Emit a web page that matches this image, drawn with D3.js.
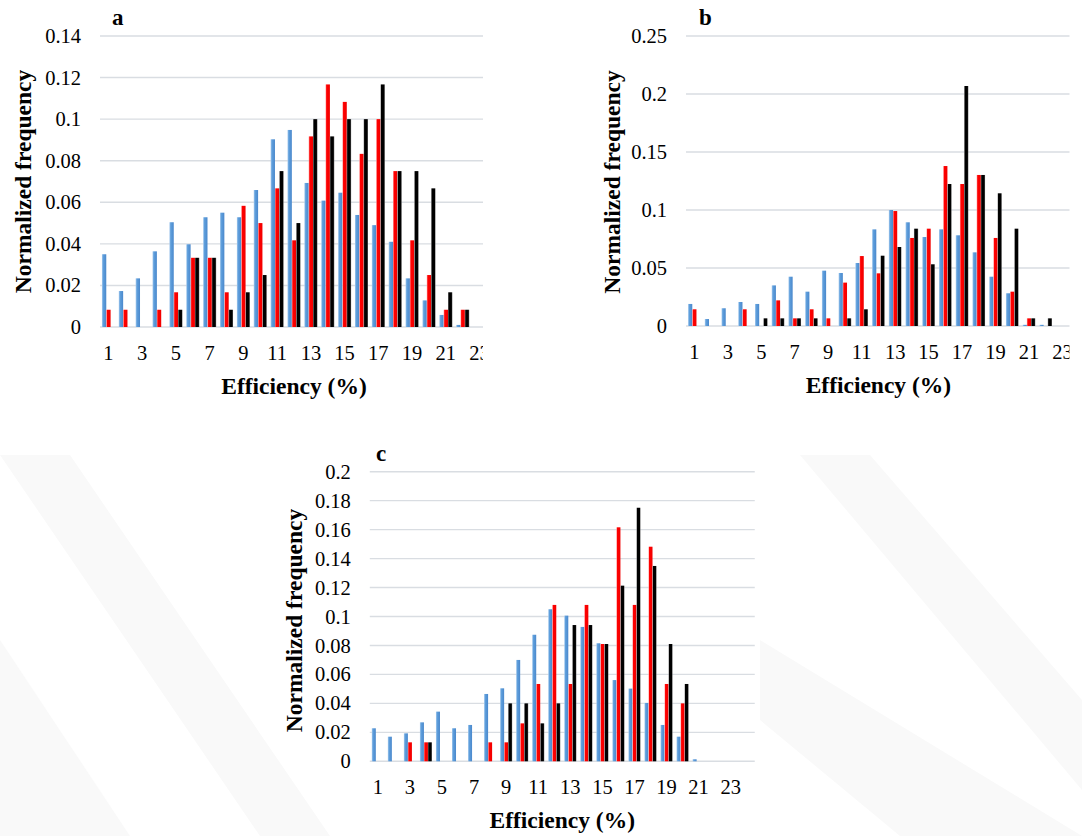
<!DOCTYPE html>
<html>
<head>
<meta charset="utf-8">
<script src="https://cdn.jsdelivr.net/npm/d3@7"></script>
<style>
  html, body { margin: 0; padding: 0; background: #ffffff; }
  svg { display: block; }
  svg text { font-family: "Liberation Serif", "Times New Roman", Times, "DejaVu Serif", serif !important; fill: #000; }
</style>
</head>
<body>
<svg id="chart" width="1082" height="836"></svg>
<script>
// ---------------- DATA ----------------
const seriesNames = ["blue", "red", "black"];

const aCategories = d3.range(1, 24);           // 1..23
const aBlue  = [0.035,0.0173,0.0234,0.0364,0.0504,0.0398,0.0528,0.055,0.0528,0.0659,0.0903,0.0948,0.0693,0.0608,0.0646,0.0539,0.049,0.041,0.0234,0.0128,0.0058,0.001,0];
const aRed   = [0.0083,0.0083,0,0.0083,0.0167,0.0333,0.0333,0.0167,0.0583,0.05,0.0667,0.0417,0.0917,0.1167,0.1083,0.0833,0.1,0.075,0.0417,0.025,0.0083,0.0083,0];
const aBlack = [0,0,0,0,0.0083,0.0333,0.0333,0.0083,0.0167,0.025,0.075,0.05,0.1,0.0917,0.1,0.1,0.1167,0.075,0.075,0.0667,0.0167,0.0083,0];
const aYTicks = [0,0.02,0.04,0.06,0.08,0.1,0.12,0.14];

const bCategories = d3.range(1, 24);           // 1..23
const bBlue  = [0.019,0.006,0.0153,0.0207,0.019,0.035,0.0425,0.0296,0.0477,0.0457,0.0543,0.0833,0.1,0.0894,0.0767,0.0833,0.0782,0.0635,0.0425,0.0282,0.001,0.001,0];
const bRed   = [0.0144,0,0,0.0144,0,0.0221,0.0066,0.0144,0.0066,0.0374,0.0603,0.0454,0.0991,0.0759,0.0839,0.1379,0.1224,0.1302,0.0759,0.0296,0.0066,0,0];
const bBlack = [0,0,0,0,0.0066,0.0066,0.0066,0.0066,0,0.0066,0.0144,0.0606,0.0681,0.0839,0.0532,0.1224,0.2069,0.1302,0.1144,0.0839,0.0066,0.0066,0];
const bYTicks = [0,0.05,0.1,0.15,0.2,0.25];

const cCategories = d3.range(1, 25);           // 1..24
const cBlue  = [0.0228,0.017,0.0193,0.0269,0.0343,0.0228,0.0251,0.0465,0.0504,0.07,0.0874,0.105,0.1006,0.0928,0.0815,0.0561,0.0502,0.0403,0.0251,0.017,0.0014,0,0,0];
const cRed   = [0,0,0.0131,0.0131,0,0,0,0.0131,0.0131,0.0262,0.0534,0.108,0.0534,0.108,0.081,0.1616,0.108,0.1482,0.0534,0.04,0,0,0,0];
const cBlack = [0,0,0,0.0131,0,0,0,0,0.04,0.04,0.0262,0.04,0.0941,0.0941,0.081,0.1213,0.1751,0.1349,0.081,0.0534,0,0,0,0];
const cYTicks = [0,0.02,0.04,0.06,0.08,0.1,0.12,0.14,0.16,0.18,0.2];

const panelLetters = ["a", "b", "c"];
const xTitle = "Efficiency (%)";
const yTitle = "Normalized frequency";

// ---------------- LAYOUT ----------------
const FONT = '"Liberation Serif", "Times New Roman", Times, "DejaVu Serif", serif';
const svg = d3.select("#chart");
const defs = svg.append("defs");

function grad(id, stops) {
  const g = defs.append("linearGradient").attr("id", id)
    .attr("x1", "0").attr("x2", "1").attr("y1", "0").attr("y2", "0");
  stops.forEach(s => g.append("stop").attr("offset", s[0]).attr("stop-color", s[1]));
}
grad("gBlue",  [["0%", "#a8cbee"], ["30%", "#5f9fdc"], ["100%", "#4a88cc"]]);
grad("gRed",   [["0%", "#ff9c9c"], ["25%", "#ff0000"], ["100%", "#f00000"]]);
grad("gBlack", [["0%", "#8a8a8a"], ["22%", "#000000"], ["78%", "#000000"], ["100%", "#666666"]]);
const fills = { blue: "url(#gBlue)", red: "url(#gRed)", black: "url(#gBlack)" };

// faint background watermark
const wm = svg.append("g").attr("fill", "#f9f9f9");
wm.append("polygon").attr("points", "0,455 70,455 330,836 260,836");
wm.append("polygon").attr("points", "0,640 0,836 130,836");
wm.append("polygon").attr("points", "800,455 870,455 1082,700 1082,790");
wm.append("polygon").attr("points", "760,640 1082,836 900,836 760,720");

const panels = [
  { id: "a", cats: aCategories, vals: [aBlue, aRed, aBlack], ticks: aYTicks, max: 0.14,
    x0: 100, step: 16.87, yBase: 327, yTop: 36, clipRight: 483,
    letter: [112, 25], yTitleX: 23, yTitleShift: 0, pad: 0.23 },
  { id: "b", cats: bCategories, vals: [bBlue, bRed, bBlack], ticks: bYTicks, max: 0.25,
    x0: 686, step: 16.73, yBase: 326, yTop: 36, clipRight: 1069.5,
    letter: [699, 25], yTitleX: 612, yTitleShift: 1, pad: 0.25 },
  { id: "c", cats: cCategories, vals: [cBlue, cRed, cBlack], ticks: cYTicks, max: 0.2,
    x0: 369.8, step: 16.04, yBase: 761.3, yTop: 471.7, clipRight: 1082,
    letter: [376, 460.5], yTitleX: 294, yTitleShift: 4, pad: 0.25 }
];

const fmt = d => d === 0 ? "0" : String(+d.toFixed(2));

panels.forEach((p, pi) => {
  const x1 = p.x0 + p.step * p.cats.length;
  const clipId = "clip-" + p.id;
  defs.append("clipPath").attr("id", clipId)
    .append("rect").attr("x", 0).attr("y", 0).attr("width", p.clipRight).attr("height", 836);

  const g = svg.append("g").attr("clip-path", `url(#${clipId})`);

  const x = d3.scaleBand().domain(p.cats).range([p.x0, x1])
    .paddingInner(p.pad).paddingOuter(p.pad / 2);
  const xs = d3.scaleBand().domain(seriesNames).range([0, x.bandwidth()]).padding(0);
  const y = d3.scaleLinear().domain([0, p.max]).range([p.yBase, p.yTop]);

  // gridlines
  g.append("g").selectAll("line").data(p.ticks).join("line")
    .attr("x1", p.x0).attr("x2", x1)
    .attr("y1", d => y(d)).attr("y2", d => y(d))
    .attr("stroke", "#d9dde2").attr("stroke-width", 1.4);

  // bars
  const rows = p.cats.map((c, i) => ({ cat: c, v: seriesNames.map((s, k) => ({ s, val: p.vals[k][i] })) }));
  const grp = g.append("g").selectAll("g").data(rows).join("g")
    .attr("transform", d => `translate(${x(d.cat)},0)`);
  grp.selectAll("rect").data(d => d.v.filter(e => e.val > 0)).join("rect")
    .attr("x", d => xs(d.s)).attr("width", xs.bandwidth())
    .attr("y", d => y(d.val)).attr("height", d => y(0) - y(d.val))
    .attr("fill", d => fills[d.s]);

  // y axis tick labels
  const yAxis = d3.axisLeft(y).tickValues(p.ticks).tickFormat(fmt).tickSize(0).tickPadding(19);
  const ya = g.append("g").attr("transform", `translate(${p.x0},0)`).call(yAxis)
    .attr("font-family", FONT).attr("font-size", 20.5);
  ya.select(".domain").remove();
  ya.selectAll("text").attr("fill", "#000");

  // x axis tick labels (odd categories)
  const xAxis = d3.axisBottom(x).tickValues(p.cats.filter(c => c % 2 === 1 && c <= 23)).tickSize(0).tickPadding(18);
  const xa = g.append("g").attr("transform", `translate(0,${p.yBase})`).call(xAxis)
    .attr("font-family", FONT).attr("font-size", 20.5);
  xa.select(".domain").remove();
  xa.selectAll("text").attr("fill", "#000");

  // x title
  svg.append("text").attr("x", (p.x0 + x1) / 2).attr("y", p.yBase + 67)
    .attr("text-anchor", "middle").attr("font-weight", "bold").attr("font-size", 23.5)
    .attr("font-family", FONT)
    .text(xTitle);

  // y title
  const ym = (p.yBase + p.yTop) / 2 + p.yTitleShift;
  svg.append("text").attr("transform", `translate(${p.yTitleX},${ym}) rotate(-90)`)
    .attr("text-anchor", "middle").attr("dy", "0.35em")
    .attr("font-weight", "bold").attr("font-size", 23.5).attr("font-family", FONT)
    .text(yTitle);

  // panel letter
  svg.append("text").attr("x", p.letter[0]).attr("y", p.letter[1])
    .attr("font-weight", "bold").attr("font-size", 23).attr("font-family", FONT)
    .text(panelLetters[pi]);
});
</script>
</body>
</html>
